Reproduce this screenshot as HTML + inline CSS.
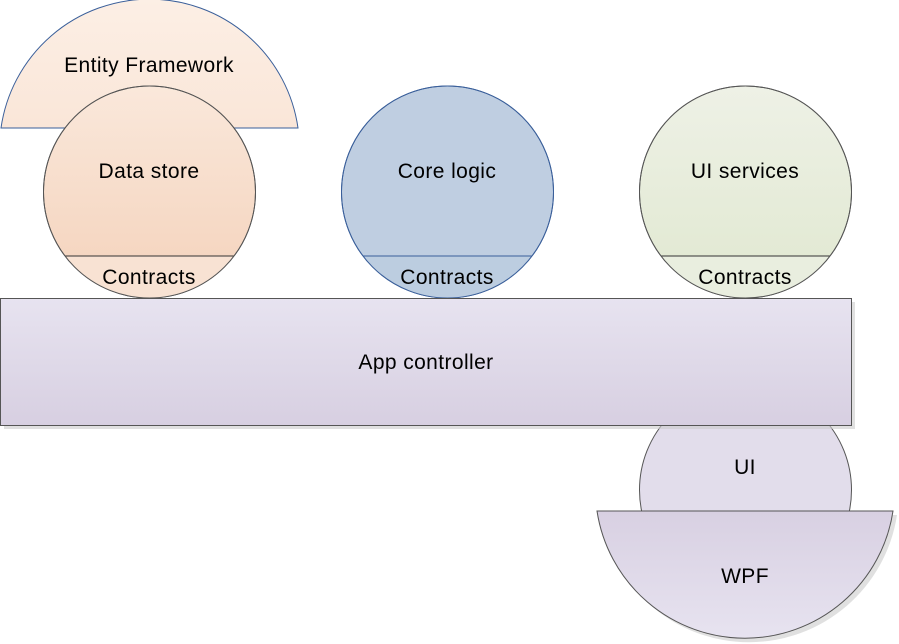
<!DOCTYPE html>
<html><head><meta charset="utf-8"><style>
html,body{margin:0;padding:0;background:#fff;width:899px;height:644px;overflow:hidden}
svg{display:block}
text{font-family:"Liberation Sans",sans-serif;font-size:21px;letter-spacing:0.4px;fill:#000;text-anchor:middle}
</style></head><body>
<svg width="899" height="644" viewBox="0 0 899 644">
<defs>
<linearGradient id="ef" x1="0" y1="0" x2="0" y2="1"><stop offset="0" stop-color="#fcefe5"/><stop offset="1" stop-color="#fae6d8"/></linearGradient>
<linearGradient id="ds" x1="0" y1="0" x2="0" y2="1"><stop offset="0" stop-color="#fae8db"/><stop offset="1" stop-color="#f4d2bb"/></linearGradient>
<linearGradient id="ui" x1="0" y1="0" x2="0" y2="1"><stop offset="0" stop-color="#eef1e6"/><stop offset="1" stop-color="#e0e8d0"/></linearGradient>
<linearGradient id="ac" x1="0" y1="0" x2="0" y2="1"><stop offset="0" stop-color="#e7e3f0"/><stop offset="1" stop-color="#d7cfe1"/></linearGradient>
<linearGradient id="wpf" x1="0" y1="0" x2="0" y2="1"><stop offset="0" stop-color="#d8d0e2"/><stop offset="1" stop-color="#e7e3f0"/></linearGradient>
<clipPath id="c1"><circle cx="149.5" cy="192" r="106"/></clipPath>
<clipPath id="c2"><circle cx="447.5" cy="192" r="106"/></clipPath>
<clipPath id="c3"><circle cx="745.5" cy="192" r="106"/></clipPath>
</defs>
<path d="M1,128 A150,150 0 0 1 298,128 Z" fill="url(#ef)" stroke="#3a5f9a" stroke-width="1"/>
<circle cx="149.5" cy="192" r="106" fill="url(#ds)" stroke="#555" stroke-width="1"/>
<rect x="40" y="256" width="220" height="50" fill="#f8e2d3" clip-path="url(#c1)"/>
<line x1="40" y1="256" x2="260" y2="256" stroke="#333" clip-path="url(#c1)"/>
<circle cx="149.5" cy="192" r="106" fill="none" stroke="#555"/>
<text x="149" y="178">Data store</text>
<text x="149" y="284">Contracts</text>
<circle cx="447.5" cy="192" r="106" fill="#bfcee1" stroke="#3a5f9a"/>
<rect x="338" y="256" width="220" height="50" fill="#bccde0" clip-path="url(#c2)"/>
<line x1="338" y1="256" x2="558" y2="256" stroke="#3a5f9a" clip-path="url(#c2)"/>
<circle cx="447.5" cy="192" r="106" fill="none" stroke="#3a5f9a"/>
<text x="447" y="178">Core logic</text>
<text x="447" y="284">Contracts</text>
<circle cx="745.5" cy="192" r="106" fill="url(#ui)" stroke="#555"/>
<rect x="636" y="256" width="220" height="50" fill="#e9eedf" clip-path="url(#c3)"/>
<line x1="636" y1="256" x2="856" y2="256" stroke="#333" clip-path="url(#c3)"/>
<circle cx="745.5" cy="192" r="106" fill="none" stroke="#555"/>
<text x="745" y="178">UI services</text>
<text x="745" y="284">Contracts</text>
<circle cx="745.5" cy="490" r="106" fill="#e2ddeb" stroke="#555"/>
<text x="745" y="474">UI</text>
<rect x="4" y="302" width="851" height="127" fill="#ccc" opacity="0.6"/>
<rect x="0.5" y="298.5" width="851" height="127" fill="url(#ac)" stroke="#555"/>
<text x="426" y="369">App controller</text>
<path d="M601,515 A149.7,149.7 0 0 0 897,515 Z" fill="#ccc" opacity="0.6"/>
<path d="M597,511 A149.7,149.7 0 0 0 893,511 Z" fill="url(#wpf)" stroke="#555"/>
<text x="745" y="583">WPF</text>
<text x="149" y="72">Entity Framework</text>
</svg>
</body></html>
